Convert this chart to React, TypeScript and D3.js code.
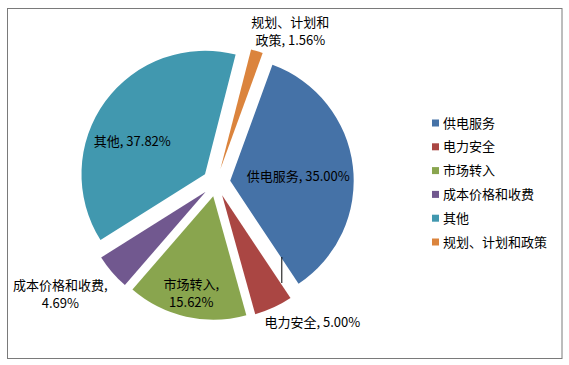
import React from "react";
import * as d3 from "d3";

const categories = ["供电服务", "电力安全", "市场转入", "成本价格和收费", "其他", "规划、计划和政策"];
const values = [35.0, 5.0, 15.62, 4.69, 37.82, 1.56];
const labelLines = [
  ["供电服务, 35.00%"],
  ["电力安全, 5.00%"],
  ["市场转入,", "15.62%"],
  ["成本价格和收费,", "4.69%"],
  ["其他, 37.82%"],
  ["规划、计划和", "政策, 1.56%"],
];
const colors = ["#4572A7", "#AA4643", "#89A54E", "#71588F", "#4198AF", "#DB843D"];
// label offsets relative to pie centre (layout)
const labelOffsets: [number, number][] = [
  [82, -6],
  [96, 140],
  [-25, 111],
  [-156, 112],
  [-84, -41],
  [74, -151],
];

const W = 569;
const H = 365;
const cx = 216.3;
const cy = 182.5;
const R = 123.5;
const explode = 14;
const startRot = (20 * Math.PI) / 180;
const font = "'Noto Sans CJK SC', 'Noto Sans', sans-serif";

export default function App() {
  const pie = d3
    .pie<number>()
    .sort(null)
    .value((d) => d)
    .startAngle(startRot)
    .endAngle(startRot + 2 * Math.PI);
  const arcs = pie(values);
  const arc = d3.arc<d3.PieArcDatum<number>>().innerRadius(0).outerRadius(R);
  const legendY = d3.scalePoint<string>().domain(categories).range([123, 242]);
  const lineH = 18;

  return (
    <svg
      width={W}
      height={H}
      style={{ position: "absolute", left: 0, top: 0, background: "#fff" }}
      fontFamily={font}
    >
      <rect x={7.5} y={8.5} width={554.5} height={350} fill="#fff" stroke="#7a7a7a" strokeWidth={1} />
      <g transform={`translate(${cx},${cy})`}>
        {arcs.map((a, i) => {
          const mid = (a.startAngle + a.endAngle) / 2;
          const ox = Math.sin(mid) * explode;
          const oy = -Math.cos(mid) * explode;
          return (
            <path key={i} d={arc(a) || ""} fill={colors[i]} transform={`translate(${ox},${oy})`} />
          );
        })}
        <line x1={65.5} y1={74.5} x2={65.5} y2={100.5} stroke="#000" strokeWidth={1} />
        {labelLines.map((lines, i) => {
          const [dx, dy] = labelOffsets[i];
          const y0 = dy - ((lines.length - 1) * lineH) / 2;
          return (
            <text key={i} textAnchor="middle" fontSize={13} fill="#000">
              {lines.map((l, j) => (
                <tspan key={j} x={dx} y={y0 + j * lineH} dy="0.35em">
                  {l}
                </tspan>
              ))}
            </text>
          );
        })}
      </g>
      <g>
        {categories.map((c, i) => (
          <g key={c} transform={`translate(0,${legendY(c)})`}>
            <rect x={432} y={-3.5} width={7} height={7} fill={colors[i]} />
            <text x={443} dy="0.35em" fontSize={13} fill="#000">
              {c}
            </text>
          </g>
        ))}
      </g>
    </svg>
  );
}
